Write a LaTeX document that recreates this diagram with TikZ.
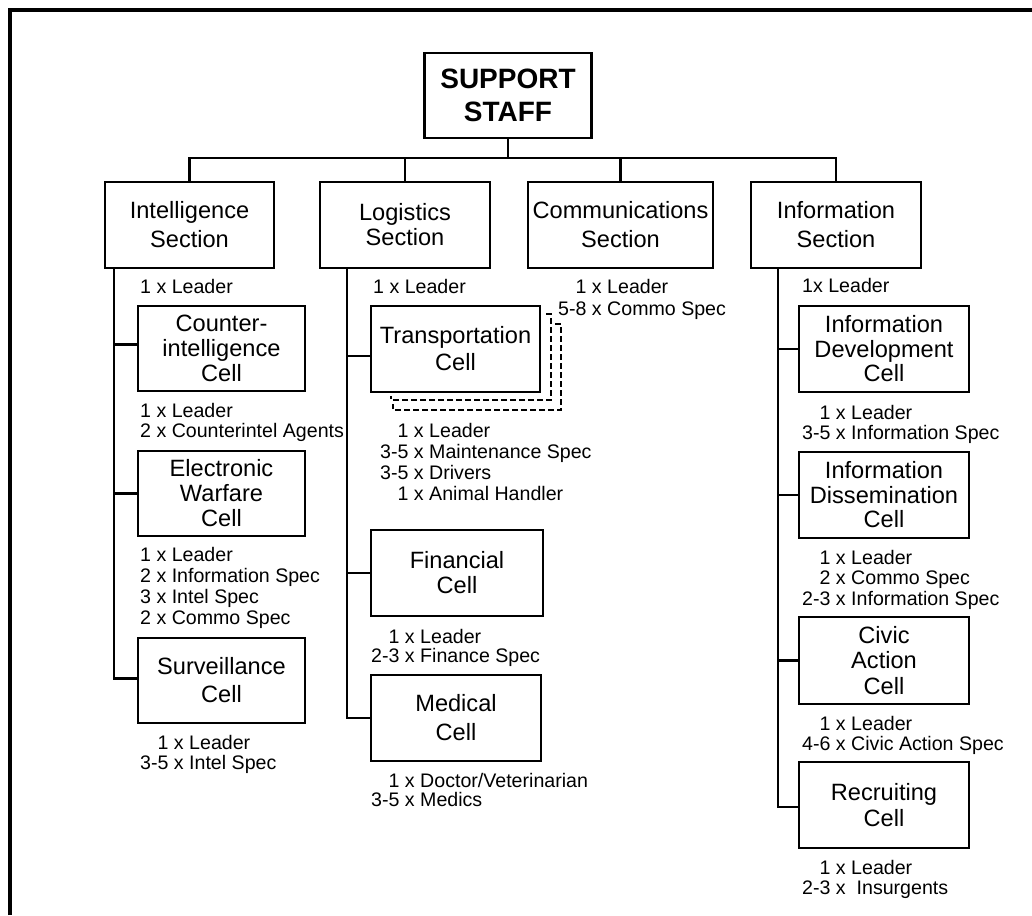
\documentclass[tikz,border=0pt]{standalone}
\usepackage{fontspec}
\setmainfont{Liberation Sans}
\begin{document}
\begin{tikzpicture}[x=1pt,y=-1pt]
\tikzset{
  box/.style={draw, line width=2.2pt, inner sep=0pt, align=center},
  titlebox/.style={box, font=\bfseries\fontsize{28}{33}\selectfont, minimum width=167pt, minimum height=85pt},
  sec/.style={box, minimum height=86pt, font=\fontsize{23.6}{29}\selectfont},
  cell/.style={box, minimum height=86pt, font=\fontsize{23.6}{25}\selectfont},
  lead/.style={anchor=north west, inner sep=0pt, align=left, font=\fontsize{19.6}{20.5}\selectfont},
  conn/.style={line width=2.2pt},
  dashline/.style={line width=2.2pt, dash pattern=on 6pt off 3pt}
}
\useasboundingbox (0,0) rectangle (1032,915);
% frame
\draw[line width=4pt] (10,915) -- (10,10) -- (1032,10);

% top
\node[titlebox] (SS) at (508,95.5) {SUPPORT\\STAFF};
\node[sec, minimum width=169pt] (INT) at (189.5,225) {Intelligence\\Section};
\node[sec, minimum width=170pt, font=\fontsize{23.6}{25}\selectfont] (LOG) at (405,225) {Logistics\\Section};
\node[sec, minimum width=185pt] (COM) at (620.5,225) {Communications\\Section};
\node[sec, minimum width=170pt] (INF) at (836,225) {Information\\Section};

\coordinate (bus) at (508,158);
\draw[conn] (SS.south) -- (SS.south |- bus);
\draw[conn] (INT.north) |- (INF.north |- bus) -- (INF.north);
\draw[conn] (LOG.north) -- (LOG.north |- bus);
\draw[conn] (COM.north) -- (COM.north |- bus);

% intelligence column
\node[cell, minimum width=167pt, minimum height=85pt] (CI) at (221.5,348.5) {Counter-\\intelligence\\Cell};
\node[cell, minimum width=167pt, minimum height=85pt] (EW) at (221.5,493.5) {Electronic\\Warfare\\Cell};
\node[cell, minimum width=167pt, minimum height=85pt, font=\fontsize{23.6}{28}\selectfont] (SV) at (221.5,680.5) {Surveillance\\Cell};
\coordinate (ti) at (114,268);
\draw[conn] (INT.south -| ti) |- ([yshift=2pt]SV.west);
\draw[conn] ([yshift=4pt]CI.west) -- ([yshift=4pt]CI.west -| ti);
\draw[conn] (EW.west) -- (EW.west -| ti);

\node[lead] (a1) at (140,279) {1 x Leader};
\node[lead] (a2) at (140,403) {1 x Leader\\2 x Counterintel Agents};
\node[lead, font=\fontsize{19.6}{21}\selectfont] (a3) at (140,547) {1 x Leader\\2 x Information Spec\\3 x Intel Spec\\2 x Commo Spec};
\node[lead] (a4) at (140,735) {\phantom{3-}1 x Leader\\3-5 x Intel Spec};

% logistics column
\node[cell, minimum width=169pt, font=\fontsize{23.6}{27}\selectfont] (TR) at (455.5,349) {Transportation\\Cell};
\node[cell, minimum width=172pt] (FI) at (457,573) {Financial\\Cell};
\node[cell, minimum width=170pt, font=\fontsize{23.6}{29}\selectfont] (ME) at (456,718) {Medical\\Cell};
\coordinate (tl) at (347,268);
\draw[conn] (LOG.south -| tl) |- (ME.west);
\draw[conn] ([yshift=-7pt]TR.west) -- ([yshift=-7pt]TR.west -| tl);
\draw[conn] (FI.west) -- (FI.west -| tl);

\draw[dashline] (546,314) -- (551,314) -- (551,400) -- (391,400) -- (391,396);
\draw[dashline] (555,324) -- (561,324) -- (561,410) -- (393,410) -- (393,404);

\node[lead] (b1) at (373,279) {1 x Leader};
\node[lead, font=\fontsize{19.6}{21}\selectfont] (b2) at (380,423) {\phantom{3-}1 x Leader\\3-5 x Maintenance Spec\\3-5 x Drivers\\\phantom{3-}1 x Animal Handler};
\node[lead, font=\fontsize{19.6}{19.5}\selectfont] (b3) at (371,629) {\phantom{2-}1 x Leader\\2-3 x Finance Spec};
\node[lead, font=\fontsize{19.6}{19.5}\selectfont] (b4) at (371,773) {\phantom{3-}1 x Doctor/Veterinarian\\3-5 x Medics};

% communications
\node[lead, font=\fontsize{19.6}{22}\selectfont] (c1) at (558,279) {\phantom{5-}1 x Leader\\5-8 x Commo Spec};

% information column
\node[cell, minimum width=170pt, font=\fontsize{23.6}{24.5}\selectfont] (ID) at (884,349) {Information\\Development\\Cell};
\node[cell, minimum width=170pt, font=\fontsize{23.6}{24.5}\selectfont] (DS) at (884,495) {Information\\Dissemination\\Cell};
\node[cell, minimum width=170pt, minimum height=87pt, font=\fontsize{23.6}{25.5}\selectfont] (CA) at (884,660.5) {Civic\\Action\\Cell};
\node[cell, minimum width=170pt, font=\fontsize{23.6}{26}\selectfont] (RC) at (884,805) {Recruiting\\Cell};
\coordinate (tf) at (778,268);
\draw[conn] (INF.south -| tf) |- ([yshift=-2pt]RC.west);
\draw[conn] (ID.west) -- (ID.west -| tf);
\draw[conn] (DS.west) -- (DS.west -| tf);
\draw[conn] (CA.west) -- (CA.west -| tf);

\node[lead] (d1) at (802,278) {1x Leader};
\node[lead] (d2) at (802,405) {\phantom{3-}1 x Leader\\3-5 x Information Spec};
\node[lead] (d3) at (802,550) {\phantom{2-}1 x Leader\\\phantom{2-}2 x Commo Spec\\2-3 x Information Spec};
\node[lead] (d4) at (802,716) {\phantom{4-}1 x Leader\\4-6 x Civic Action Spec};
\node[lead] (d5) at (802,860) {\phantom{2-}1 x Leader\\2-3 x\ \ Insurgents};
\end{tikzpicture}
\end{document}
